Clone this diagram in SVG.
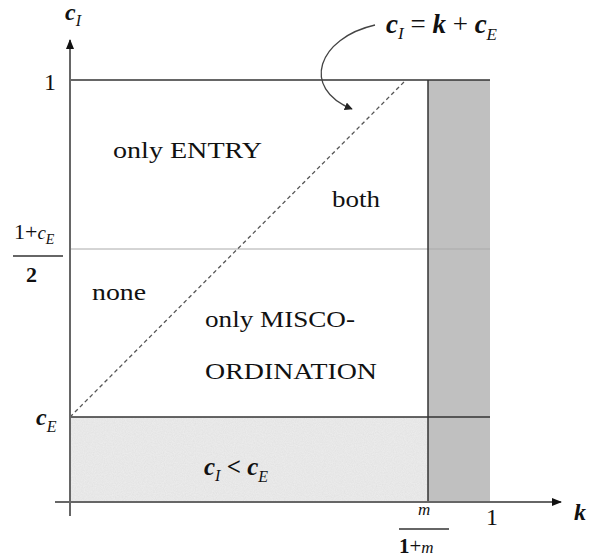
<svg xmlns="http://www.w3.org/2000/svg" width="591" height="558" viewBox="0 0 591 558">
<style>
text{font-family:'Liberation Serif','DejaVu Serif',serif;fill:#111}
.lbl{font-size:24px}
.m{font-style:italic;font-weight:bold}
.s{font-style:italic;font-weight:normal}
.ax{stroke:#666;stroke-width:2;fill:none}
.bd{stroke:#333;stroke-width:1.5;fill:none}
</style>
<defs>
<marker id="ah" viewBox="0 0 10 10" refX="9" refY="5" markerWidth="8" markerHeight="8" orient="auto" markerUnits="userSpaceOnUse">
<path d="M0,0 L10,5 L0,10 z" fill="#222"/>
</marker>
<marker id="ah2" viewBox="0 0 10 10" refX="9" refY="5" markerWidth="10" markerHeight="10" orient="auto" markerUnits="userSpaceOnUse">
<path d="M0,1 L10,5 L0,9 z" fill="#111"/>
</marker>
<filter id="noise" x="0" y="0" width="1" height="1">
<feTurbulence type="fractalNoise" baseFrequency="0.9" numOctaves="2" seed="3" result="n"/>
<feColorMatrix type="matrix" values="0 0 0 0 0.55  0 0 0 0 0.55  0 0 0 0 0.55  0 0 0 0.35 -0.05" in="n" result="g"/>
<feComposite in="g" in2="SourceGraphic" operator="in" result="c"/>
<feMerge><feMergeNode in="SourceGraphic"/><feMergeNode in="c"/></feMerge>
</filter>
</defs>
<rect width="591" height="558" fill="#fff"/>
<g id="regions">
<rect id="shaded-low" x="70" y="417" width="358" height="85" fill="#ececec" filter="url(#noise)"/>
<rect id="shaded-right" x="428" y="80" width="62" height="422" fill="#c0c0c0"/>
</g>
<g id="connectors">
<line class="bd" x1="70" y1="80" x2="490" y2="80"/>
<line x1="70" y1="249" x2="490" y2="249" stroke="#aaa" stroke-width="1"/>
<line class="bd" x1="70" y1="417" x2="490" y2="417"/>
<line class="bd" x1="428" y1="80" x2="428" y2="502"/>
<line x1="70" y1="417" x2="405" y2="81" stroke="#555" stroke-width="1.3" stroke-dasharray="4,3"/>
<line class="ax" x1="70" y1="516" x2="70" y2="40" marker-end="url(#ah2)"/>
<line class="ax" x1="55" y1="502" x2="561" y2="502" marker-end="url(#ah2)"/>
<path d="M375,25 C318,38 300,88 352,109" fill="none" stroke="#444" stroke-width="1.3" marker-end="url(#ah)"/>
</g>
<g id="labels">
<text class="m" x="65" y="20" font-size="24">c<tspan class="s" font-size="16" dy="6">I</tspan></text>
<text x="44" y="90" font-size="24">1</text>
<text x="14" y="239" font-size="22">1+<tspan font-style="italic" font-size="19">c</tspan><tspan font-style="italic" font-size="14" dy="5">E</tspan></text>
<line x1="13" y1="256" x2="63" y2="256" stroke="#333" stroke-width="1.5"/>
<text x="26" y="282" font-size="22" font-weight="bold">2</text>
<text class="m" x="36" y="425" font-size="24">c<tspan class="s" font-size="16" dy="7">E</tspan></text>
<text class="m" x="204" y="475" font-size="25">c<tspan class="s" font-size="16" dy="6">I</tspan><tspan class="m" dy="-6"> &lt; c</tspan><tspan class="s" font-size="16" dy="7">E</tspan></text>
<text class="s" x="418" y="515" font-size="17">m</text>
<line x1="399" y1="529" x2="449" y2="529" stroke="#333" stroke-width="1.3"/>
<text x="399" y="553" font-size="21" font-weight="bold">1<tspan font-weight="normal">+</tspan><tspan font-style="italic" font-weight="normal" font-size="17">m</tspan></text>
<text x="486" y="525" font-size="24">1</text>
<text class="m" x="574" y="520" font-size="24">k</text>
<text class="m" x="386" y="33" font-size="27">c<tspan class="s" font-size="17" dy="6">I</tspan><tspan font-weight="normal" font-style="normal" dy="-6"> = </tspan><tspan>k</tspan><tspan font-weight="normal" font-style="normal"> + </tspan><tspan>c</tspan><tspan class="s" font-size="17" dy="7">E</tspan></text>
</g>
<g id="node-entry"><text class="lbl" x="113" y="158" textLength="149" lengthAdjust="spacingAndGlyphs">only ENTRY</text></g>
<g id="node-both"><text class="lbl" x="332" y="207" textLength="48" lengthAdjust="spacingAndGlyphs">both</text></g>
<g id="node-none"><text class="lbl" x="92" y="300" textLength="54" lengthAdjust="spacingAndGlyphs">none</text></g>
<g id="node-misco">
<text class="lbl" x="205" y="327" textLength="150" lengthAdjust="spacingAndGlyphs">only MISCO-</text>
<text class="lbl" x="205" y="379" textLength="172" lengthAdjust="spacingAndGlyphs">ORDINATION</text>
</g>
</svg>
